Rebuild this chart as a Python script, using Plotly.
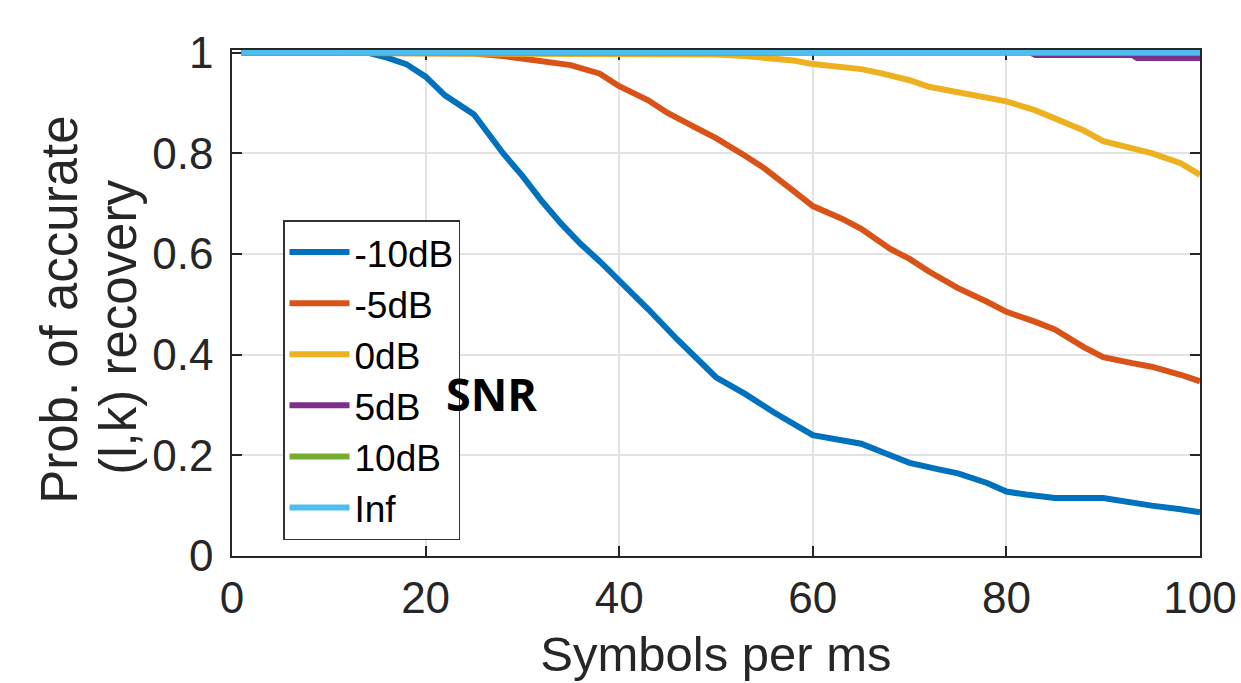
import plotly.graph_objects as go

# ---- data ----
x_m10 = [1, 14, 16, 18, 20, 22, 25, 28, 30, 32, 34, 36, 38, 40, 43, 46, 50, 53, 56, 60, 62, 65,
         68, 70, 73, 75, 78, 80, 82, 85, 90, 92, 95, 98, 100]
y_m10 = [1.0, 1.0, 0.99, 0.977, 0.952, 0.915, 0.877, 0.80, 0.755, 0.705, 0.66, 0.62, 0.585, 0.548,
         0.49, 0.43, 0.355, 0.322, 0.285, 0.24, 0.233, 0.223, 0.20, 0.185, 0.172, 0.164, 0.145,
         0.128, 0.122, 0.115, 0.115, 0.108, 0.10, 0.093, 0.087]

x_m5 = [1, 25, 28, 30, 33, 35, 38, 40, 43, 45, 48, 50, 53, 55, 58, 60, 63, 65, 68, 70, 72, 75,
        78, 80, 83, 85, 88, 90, 93, 95, 98, 100]
y_m5 = [1.0, 0.998, 0.993, 0.988, 0.982, 0.975, 0.958, 0.933, 0.905, 0.88, 0.85, 0.83, 0.795,
        0.77, 0.725, 0.695, 0.67, 0.65, 0.61, 0.59, 0.565, 0.532, 0.505, 0.485, 0.465, 0.45,
        0.415, 0.395, 0.383, 0.376, 0.36, 0.347]

x_0 = [1, 47, 50, 53, 55, 58, 60, 63, 65, 67, 70, 72, 75, 78, 80, 83, 85, 88, 90, 93, 95, 98, 100]
y_0 = [1.0, 0.999, 0.996, 0.993, 0.99, 0.984, 0.977, 0.972, 0.967, 0.959, 0.945, 0.932, 0.92,
       0.91, 0.903, 0.885, 0.869, 0.845, 0.824, 0.81, 0.80, 0.78, 0.757]

x_5 = [1, 82.5, 83, 93, 93.5, 100]
y_5 = [1.0, 1.0, 0.995, 0.995, 0.989, 0.989]

x_10 = [1, 100]
y_10 = [1.0, 1.0]

x_inf = [1, 100]
y_inf = [1.0, 1.0]

names = ["-10dB", "-5dB", "0dB", "5dB", "10dB", "Inf"]
colors = ["#0072BD", "#D95319", "#EDB120", "#7E2F8E", "#77AC30", "#4DBEEE"]
xs = [x_m10, x_m5, x_0, x_5, x_10, x_inf]
ys = [y_m10, y_m5, y_0, y_5, y_10, y_inf]

x_ticks = [0, 20, 40, 60, 80, 100]
y_ticks = [0, 0.2, 0.4, 0.6, 0.8, 1]
y_tick_text = ["0", "0.2", "0.4", "0.6", "0.8", "1"]

AX = "#262626"
FONT = "Liberation Sans, Arial, Helvetica, sans-serif"

fig = go.Figure()
for n, c, xx, yy in zip(names, colors, xs, ys):
    fig.add_trace(go.Scatter(x=xx, y=yy, mode="lines", name=n,
                             line=dict(color=c, width=6)))

fig.update_layout(
    width=1241, height=683,
    margin=dict(l=232, r=41, t=50, b=127),
    paper_bgcolor="white", plot_bgcolor="white",
    font=dict(family=FONT, color=AX),
    showlegend=True,
    legend=dict(
        x=0.0527, y=0.664, xanchor="left", yanchor="top",
        bgcolor="white", bordercolor="#333333", borderwidth=1.5,
        font=dict(family=FONT, size=37, color="#000000"),
        itemwidth=60, tracegroupgap=0,
    ),
    xaxis=dict(
        range=[0, 100], tickvals=x_ticks, automargin=False,
        showgrid=True, gridcolor="#e3e3e3", gridwidth=1.5,
        showline=True, linecolor=AX, linewidth=1.5, mirror="ticks",
        ticks="inside", ticklen=10, tickwidth=1.5, tickcolor=AX,
        tickfont=dict(size=44, color=AX), zeroline=False,
        layer="below traces", ticklabelstandoff=2,
        title=dict(text="Symbols per ms", font=dict(size=49, color=AX), standoff=16),
    ),
    yaxis=dict(
        range=[0, 1.005], tickvals=y_ticks, ticktext=y_tick_text, automargin=False,
        showgrid=True, gridcolor="#e3e3e3", gridwidth=1.5,
        showline=True, linecolor=AX, linewidth=1.5, mirror="ticks",
        ticks="inside", ticklen=10, tickwidth=1.5, tickcolor=AX,
        tickfont=dict(size=44, color=AX), zeroline=False,
        layer="below traces", ticklabelstandoff=8,
    ),
    annotations=[
        dict(text="Prob. of accurate", textangle=-90, xref="paper", yref="paper",
             x=-0.179, y=0.486, xanchor="center", yanchor="middle", showarrow=False,
             font=dict(size=51, color=AX, family=FONT)),
        dict(text="(l,k) recovery", textangle=-90, xref="paper", yref="paper",
             x=-0.1173, y=0.452, xanchor="center", yanchor="middle", showarrow=False,
             font=dict(size=51, color=AX, family=FONT)),
        dict(text="<b>SNR</b>", xref="paper", yref="paper",
             x=(491 - 232) / 968, y=(556 - 393) / 506, xanchor="center", yanchor="middle",
             showarrow=False,
             font=dict(size=45, color="#000000", family="Open Sans, sans-serif")),
    ],
)

fig.write_html("out.html")
